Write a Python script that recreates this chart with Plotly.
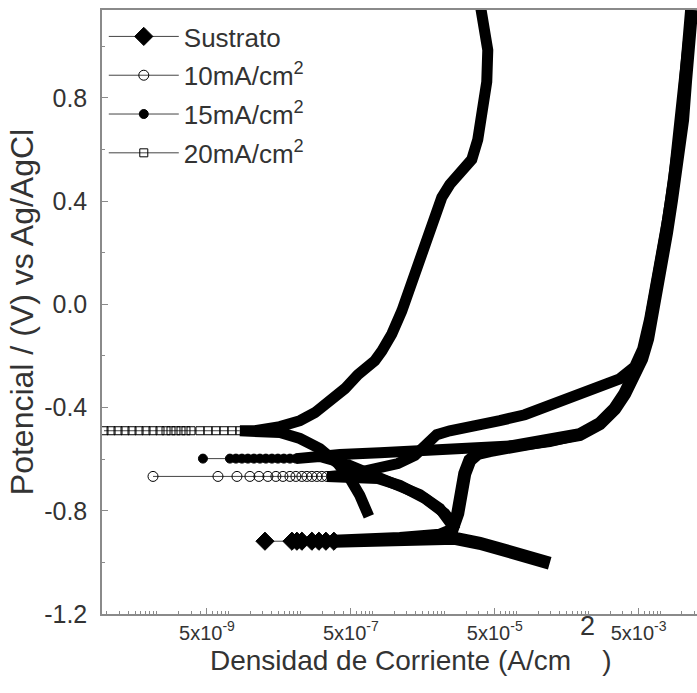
import numpy as np
import plotly.graph_objects as go

# ---------------- data (log10 of current density in A/cm2, potential in V) ----------------
# Sustrato
sus_mk_logi = [-7.495, -7.120, -7.051, -6.982, -6.843, -6.745, -6.648, -6.537]
sus_mk_e = [-0.918] * 8
sus_logi = [-3.537, -3.745, -4.093, -4.509, -4.857, -5.343, -5.898, -6.454, -6.537,
            -6.454, -5.620, -5.065, -4.898, -4.815, -4.773, -4.718, -4.648, -4.537, -4.370,
            -3.954, -3.537, -3.120, -2.843, -2.634, -2.495, -2.384, -2.259, -2.176, -2.107,
            -2.037, -1.968, -1.912, -1.843, -1.773, -1.690, -1.648, -1.607, -1.565]
sus_e = [-1.003, -0.984, -0.957, -0.926, -0.907, -0.910, -0.914, -0.918, -0.918,
         -0.914, -0.907, -0.895, -0.876, -0.810, -0.733, -0.656, -0.605, -0.578, -0.567,
         -0.547, -0.532, -0.505, -0.463, -0.405, -0.347, -0.289, -0.212, -0.134, -0.038,
         0.059, 0.175, 0.279, 0.406, 0.534, 0.715, 0.869, 1.024, 1.140]

# 10 mA/cm2
c10_mk_logi = [-9.051, -8.148, -7.884, -7.704, -7.579, -7.454, -7.343, -7.245, -7.148,
               -7.065, -6.982, -6.912, -6.843, -6.773, -6.704, -6.634]
c10_mk_e = [-0.667] * 16
c10_logi = [-4.857, -4.995, -5.273, -5.620, -5.926, -6.315, -6.634,
            -6.593, -6.315, -5.968, -5.648, -5.412, -5.232, -5.107, -4.926, -4.579, -4.232,
            -3.884, -3.537, -3.190, -2.843, -2.565, -2.357, -2.245, -2.148, -2.065, -1.982,
            -1.898, -1.815, -1.732, -1.662, -1.607]
c10_e = [-0.860, -0.810, -0.752, -0.702, -0.675, -0.671, -0.667,
         -0.667, -0.659, -0.640, -0.617, -0.586, -0.540, -0.505, -0.490, -0.474, -0.451,
         -0.428, -0.393, -0.351, -0.320, -0.289, -0.242, -0.173, -0.057, 0.059, 0.175,
         0.329, 0.483, 0.676, 0.869, 1.024]

# 15 mA/cm2
c15_mk_logi = [-8.357, -7.982, -7.898, -7.815, -7.732, -7.648, -7.565, -7.482, -7.398,
               -7.315, -7.232, -7.148, -7.065]
c15_mk_e = [-0.598] * 13
c15_logi = [-4.843, -4.926, -5.065, -5.343, -5.690, -6.037, -6.384, -6.732, -7.065,
            -7.009, -6.454, -5.898, -5.343, -4.787, -4.370,
            -3.954, -3.537, -3.120, -2.843, -2.634, -2.495, -2.384, -2.259, -2.176, -2.107,
            -2.037, -1.968, -1.912, -1.843, -1.773, -1.690, -1.648, -1.607, -1.565]
c15_e = [-0.876, -0.841, -0.791, -0.737, -0.694, -0.659, -0.617, -0.590, -0.598,
         -0.590, -0.582, -0.575, -0.567, -0.563, -0.559,
         -0.547, -0.532, -0.505, -0.463, -0.405, -0.347, -0.289, -0.212, -0.134, -0.038,
         0.059, 0.175, 0.279, 0.406, 0.534, 0.715, 0.869, 1.024, 1.140]

# 20 mA/cm2
c20_mk_logi = [-9.732, -9.634, -9.537, -9.440, -9.343, -9.245, -9.148, -9.051, -8.954,
               -8.870, -8.801, -8.732, -8.662, -8.593, -8.523, -8.398, -8.287, -8.176,
               -8.065, -7.954, -7.843]
c20_mk_e = [-0.490] * 21
c20_logi = [-6.051, -6.093, -6.176, -6.315, -6.482, -6.732, -7.009, -7.287, -7.634, -7.843,
            -7.634, -7.287, -7.009, -6.801, -6.593, -6.384, -6.204, -6.065, -5.968, -5.870,
            -5.732, -5.593, -5.454, -5.315, -5.204, -5.120, -5.037, -4.926, -4.759, -4.620,
            -4.537, -4.468, -4.412, -4.398, -4.454, -4.495]
c20_e = [-0.822, -0.791, -0.741, -0.675, -0.617, -0.559, -0.520, -0.497, -0.490, -0.490,
         -0.490, -0.474, -0.451, -0.420, -0.378, -0.327, -0.273, -0.242, -0.219, -0.181,
         -0.115, -0.026, 0.078, 0.182, 0.271, 0.348, 0.414, 0.464, 0.514, 0.561,
         0.638, 0.746, 0.862, 0.985, 1.082, 1.147]

x_tickvals = [5e-9, 5e-7, 5e-5, 5e-3]
x_ticktext = ["5x10<sup>-9</sup>", "5x10<sup>-7</sup>", "5x10<sup>-5</sup>", "5x10<sup>-3</sup>"]
y_tickvals = [-1.2, -0.8, -0.4, 0.0, 0.4, 0.8]
y_ticktext = ["-1.2", "-0.8", "-0.4", "0.0", "0.4", "0.8"]

FONT = "Liberation Sans, Arial, sans-serif"
TXT = "#333333"
AX = "#8a8a8a"
NB = "\u00a0"

def p10(a):
    return (10.0 ** np.array(a)).tolist()

fig = go.Figure()

series = [
    ("Sustrato", sus_logi, sus_e, sus_mk_logi, sus_mk_e,
     dict(symbol="diamond", size=14, color="black", line=dict(color="black", width=1)), 13),
    ("10mA/cm<sup>2</sup>", c10_logi, c10_e, c10_mk_logi, c10_mk_e,
     dict(symbol="circle-open", size=10, color="black", line=dict(width=1)), 11),
    ("15mA/cm<sup>2</sup>", c15_logi, c15_e, c15_mk_logi, c15_mk_e,
     dict(symbol="circle", size=9, color="black", line=dict(color="black", width=1)), 11),
    ("20mA/cm<sup>2</sup>", c20_logi, c20_e, c20_mk_logi, c20_mk_e,
     dict(symbol="square-open", size=8, color="black", line=dict(width=1)), 11),
]

# thick bands (dense overlapping markers)
for name, bl, be, ml, me, mk, w in series:
    fig.add_trace(go.Scatter(x=p10(bl), y=be, mode="lines", showlegend=False,
                             hoverinfo="skip",
                             line=dict(color="black", width=w)))
# sparse markers near the corrosion potential
for i, (name, bl, be, ml, me, mk, w) in enumerate(series):
    fig.add_trace(go.Scatter(x=p10(ml), y=me, mode="lines+markers", name=name,
                             legendgroup="g%d" % i,
                             line=dict(color="#444444", width=1), marker=mk))

fig.update_layout(
    width=697, height=693,
    margin=dict(l=102, r=0, t=10, b=79),
    paper_bgcolor="white", plot_bgcolor="white",
    font=dict(family=FONT, color=TXT, size=21),
    showlegend=True,
    legend=dict(x=0.003, y=0.995, xanchor="left", yanchor="top",
                bgcolor="rgba(0,0,0,0)", font=dict(size=26, color=TXT, family=FONT),
                tracegroupgap=2, itemwidth=70, itemsizing="trace"),
    xaxis=dict(type="log", range=[-9.76, -1.49], showgrid=False, zeroline=False,
               showline=True, linecolor=AX, linewidth=1.5, mirror=True,
               ticks="inside", ticklen=6, tickcolor=AX, tickwidth=1,
               tickmode="array", tickvals=x_tickvals, ticktext=x_ticktext,
               tickfont=dict(size=20, color=TXT, family=FONT),
               minor=dict(ticks="inside", ticklen=3, tickcolor=AX, dtick="D1")),
    yaxis=dict(range=[-1.2, 1.14], showgrid=False, zeroline=False,
               showline=True, linecolor=AX, linewidth=1.5, mirror=False,
               ticks="inside", ticklen=6, tickcolor=AX,
               tickmode="array", tickvals=y_tickvals, ticktext=y_ticktext,
               tickfont=dict(size=25, color=TXT, family=FONT), ticklabelstandoff=8,
               minor=dict(ticks="inside", ticklen=3, tickcolor=AX, dtick=0.2, tick0=-1.2),
               title=dict(text="Potencial / (V) vs Ag/AgCl",
                          font=dict(size=32, color=TXT, family=FONT), standoff=1)),
)

# x-axis title (with the raised "2" placed as in the original)
fig.add_annotation(text="Densidad de Corriente (A/cm" + NB * 4 + ")",
                   xref="paper", yref="paper",
                   x=(411 - 102) / 595, y=-(660 - 614) / 604,
                   xanchor="center", yanchor="middle",
                   showarrow=False, font=dict(size=28, color=TXT, family=FONT))
fig.add_annotation(text="2", xref="paper", yref="paper",
                   x=(587 - 102) / 595, y=-(626 - 614) / 604,
                   xanchor="center", yanchor="middle",
                   showarrow=False, font=dict(size=27, color=TXT, family=FONT))

fig.write_html("out.html")
